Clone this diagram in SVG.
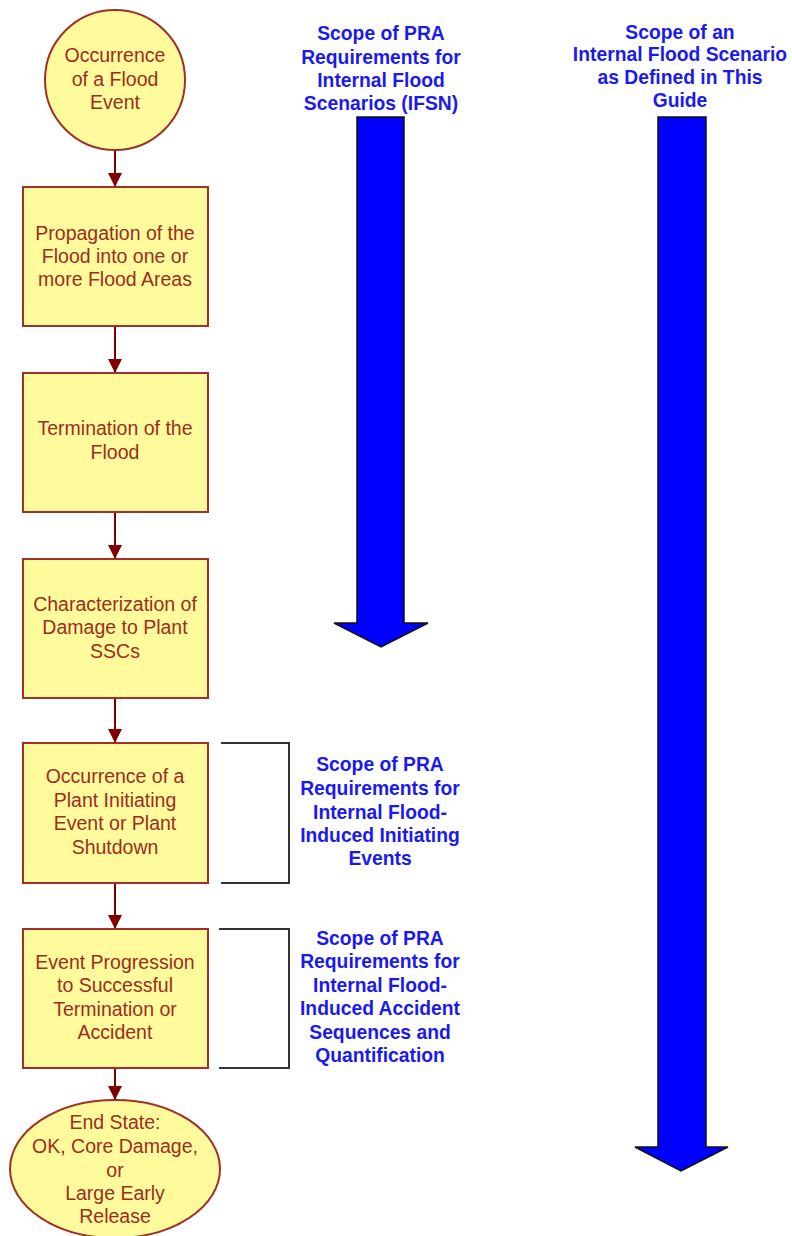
<svg xmlns="http://www.w3.org/2000/svg" width="792" height="1236" viewBox="0 0 792 1236">
<defs>
<style>
.node{fill:#FFFA9C;stroke:#A0302A;stroke-width:2}
.nt{font-family:"Liberation Sans",Arial,sans-serif;font-size:19.5px;fill:#9C2E1E;text-anchor:middle}
.bt{font-family:"Liberation Sans",Arial,sans-serif;font-size:19.3px;font-weight:bold;fill:#1A1AF0;text-anchor:middle}
.conn{stroke:#800000;stroke-width:2;fill:none}
.brk{stroke:#333;stroke-width:2;fill:none}
.big{fill:#0000FF;stroke:#111;stroke-width:1.5;stroke-linejoin:miter}
</style>
<marker id="ah" viewBox="0 0 14 14" refX="13" refY="7" markerWidth="14" markerHeight="14" markerUnits="userSpaceOnUse" orient="auto">
<path d="M0,0 L14,7 L0,14 Z" fill="#800000"/>
</marker>
</defs>
<rect width="792" height="1236" fill="#FFFFFF"/>
<g id="connectors">
<line class="conn" x1="115" y1="150" x2="115" y2="186" marker-end="url(#ah)"/>
<line class="conn" x1="115" y1="326" x2="115" y2="372" marker-end="url(#ah)"/>
<line class="conn" x1="115" y1="512" x2="115" y2="558" marker-end="url(#ah)"/>
<line class="conn" x1="115" y1="698" x2="115" y2="742" marker-end="url(#ah)"/>
<line class="conn" x1="115" y1="883" x2="115" y2="928" marker-end="url(#ah)"/>
<line class="conn" x1="115" y1="1068" x2="115" y2="1099" marker-end="url(#ah)"/>
</g>
<g id="n1">
<circle class="node" cx="115" cy="80" r="70"/>
<text class="nt"><tspan x="115" y="62">Occurrence</tspan><tspan x="115" y="86">of a Flood</tspan><tspan x="115" y="109">Event</tspan></text>
</g>
<g id="n2">
<rect class="node" x="23" y="187" width="185" height="139"/>
<text class="nt"><tspan x="115" y="240">Propagation of the</tspan><tspan x="115" y="263">Flood into one or</tspan><tspan x="115" y="286">more Flood Areas</tspan></text>
</g>
<g id="n3">
<rect class="node" x="23" y="373" width="185" height="139"/>
<text class="nt"><tspan x="115" y="435">Termination of the</tspan><tspan x="115" y="459">Flood</tspan></text>
</g>
<g id="n4">
<rect class="node" x="23" y="559" width="185" height="139"/>
<text class="nt"><tspan x="115" y="611">Characterization of</tspan><tspan x="115" y="634">Damage to Plant</tspan><tspan x="115" y="658">SSCs</tspan></text>
</g>
<g id="n5">
<rect class="node" x="23" y="743" width="185" height="140"/>
<text class="nt"><tspan x="115" y="783">Occurrence of a</tspan><tspan x="115" y="807">Plant Initiating</tspan><tspan x="115" y="830">Event or Plant</tspan><tspan x="115" y="854">Shutdown</tspan></text>
</g>
<g id="n6">
<rect class="node" x="23" y="929" width="185" height="139"/>
<text class="nt"><tspan x="115" y="969">Event Progression</tspan><tspan x="115" y="992">to Successful</tspan><tspan x="115" y="1016">Termination or</tspan><tspan x="115" y="1039">Accident</tspan></text>
</g>
<g id="n7">
<ellipse class="node" cx="115" cy="1169" rx="105" ry="69"/>
<text class="nt"><tspan x="115" y="1129">End State:</tspan><tspan x="115" y="1153">OK, Core Damage,</tspan><tspan x="115" y="1177">or</tspan><tspan x="115" y="1200">Large Early</tspan><tspan x="115" y="1223">Release</tspan></text>
</g>
<g id="scope-ifsn">
<text class="bt"><tspan x="381" y="40">Scope of PRA</tspan><tspan x="381" y="64">Requirements for</tspan><tspan x="381" y="87">Internal Flood</tspan><tspan x="381" y="110">Scenarios (IFSN)</tspan></text>
<path class="big" d="M357,117 L404,117 L404,623 L428,623 L381,647 L334,623 L357,623 Z"/>
</g>
<g id="scope-guide">
<text class="bt"><tspan x="680" y="39">Scope of an</tspan><tspan x="680" y="61">Internal Flood Scenario</tspan><tspan x="680" y="84">as Defined in This</tspan><tspan x="680" y="107">Guide</tspan></text>
<path class="big" d="M658,117 L706,117 L706,1147 L728,1147 L681,1171 L635,1147 L658,1147 Z"/>
</g>
<g id="scope-ie">
<path class="brk" d="M221,743 L289,743 L289,883 L221,883"/>
<text class="bt"><tspan x="380" y="771">Scope of PRA</tspan><tspan x="380" y="795">Requirements for</tspan><tspan x="380" y="819">Internal Flood-</tspan><tspan x="380" y="842">Induced Initiating</tspan><tspan x="380" y="865">Events</tspan></text>
</g>
<g id="scope-as">
<path class="brk" d="M219,929 L289,929 L289,1068 L219,1068"/>
<text class="bt"><tspan x="380" y="945">Scope of PRA</tspan><tspan x="380" y="968">Requirements for</tspan><tspan x="380" y="992">Internal Flood-</tspan><tspan x="380" y="1015">Induced Accident</tspan><tspan x="380" y="1039">Sequences and</tspan><tspan x="380" y="1062">Quantification</tspan></text>
</g>
</svg>
